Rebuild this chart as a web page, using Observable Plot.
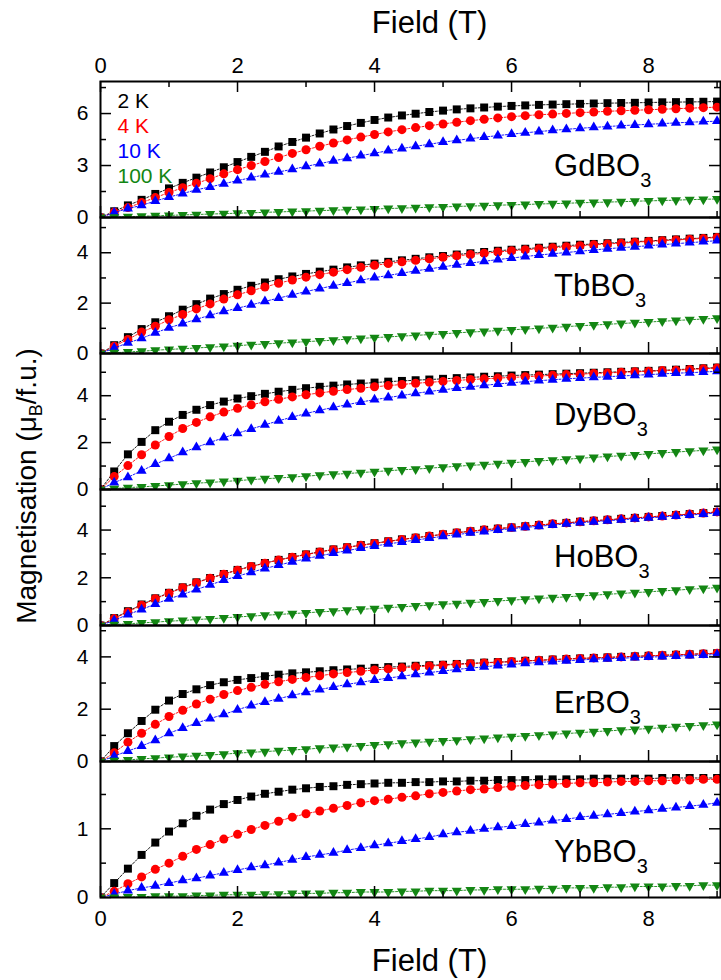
<!DOCTYPE html>
<html><head><meta charset="utf-8">
<script src="https://cdn.jsdelivr.net/npm/d3@7"></script>
<script src="https://cdn.jsdelivr.net/npm/@observablehq/plot@0.6"></script>
<style>
body{margin:0;background:#fff;}
#wrap{position:relative;width:721px;height:980px;overflow:hidden;font-family:"Liberation Sans",Arial,sans-serif;}
#panels svg{overflow:visible;}
#ytitle{position:absolute;left:27px;top:486px;transform:translate(-50%,-50%) rotate(-90deg);white-space:nowrap;font-size:28px;line-height:34px;color:#000;}
#ytitle sub{font-size:18px;vertical-align:-6px;line-height:0;}
</style></head><body>
<div id="wrap"><div id="panels"></div><div id="ytitle">Magnetisation (μ<sub>B</sub>/f.u.)</div></div>
<script>
// ---------------- data ----------------
const field = [0,0.2,0.4,0.6,0.8,1.0,1.2,1.4,1.6,1.8,2.0,2.2,2.4,2.6,2.8,3.0,3.2,3.4,3.6,3.8,4.0,4.2,4.4,4.6,4.8,5.0,5.2,5.4,5.6,5.8,6.0,6.2,6.4,6.6,6.8,7.0,7.2,7.4,7.6,7.8,8.0,8.2,8.4,8.6,8.8,9.0];
const compounds = ["GdBO3","TbBO3","DyBO3","HoBO3","ErBO3","YbBO3"];
const temperatures = ["2 K","4 K","10 K","100 K"];

const Gd_2K = [0,0.36,0.7,1.02,1.36,1.68,2.0,2.3,2.6,2.9,3.2,3.5,3.79,4.1,4.36,4.61,4.85,5.08,5.28,5.46,5.63,5.77,5.89,5.99,6.09,6.17,6.24,6.3,6.35,6.4,6.44,6.47,6.5,6.52,6.54,6.56,6.58,6.6,6.61,6.62,6.64,6.65,6.66,6.67,6.68,6.69];
const Gd_4K = [0,0.3,0.57,0.86,1.15,1.44,1.72,1.97,2.24,2.52,2.76,3.0,3.23,3.46,3.7,3.91,4.11,4.3,4.48,4.64,4.79,4.94,5.07,5.19,5.3,5.4,5.5,5.59,5.67,5.75,5.82,5.88,5.93,5.97,6.01,6.05,6.09,6.13,6.16,6.19,6.22,6.25,6.28,6.31,6.34,6.37];
const Gd_10K = [0,0.28,0.52,0.7,0.95,1.18,1.38,1.6,1.76,1.95,2.13,2.3,2.47,2.63,2.78,2.95,3.11,3.27,3.42,3.57,3.71,3.86,3.98,4.11,4.23,4.35,4.45,4.55,4.64,4.73,4.81,4.89,4.96,5.03,5.09,5.15,5.2,5.25,5.3,5.34,5.38,5.42,5.46,5.5,5.53,5.56];
const Gd_100K = [0,0.02,0.05,0.07,0.1,0.12,0.15,0.17,0.2,0.22,0.25,0.27,0.3,0.32,0.35,0.37,0.4,0.42,0.45,0.47,0.49,0.52,0.54,0.57,0.59,0.61,0.64,0.66,0.68,0.71,0.73,0.75,0.78,0.8,0.82,0.85,0.87,0.89,0.91,0.94,0.96,0.98,1.0,1.03,1.05,1.07];

const Tb_2K = [0,0.33,0.65,0.97,1.24,1.48,1.74,1.96,2.18,2.36,2.53,2.69,2.82,2.95,3.06,3.16,3.25,3.33,3.42,3.5,3.57,3.64,3.7,3.76,3.82,3.87,3.93,3.98,4.03,4.08,4.12,4.16,4.2,4.24,4.28,4.32,4.35,4.38,4.41,4.44,4.47,4.5,4.53,4.56,4.59,4.63];
const Tb_4K = [0,0.29,0.56,0.85,1.08,1.34,1.55,1.77,1.97,2.16,2.33,2.49,2.64,2.79,2.92,3.03,3.13,3.23,3.33,3.42,3.5,3.57,3.64,3.7,3.76,3.82,3.88,3.93,3.98,4.03,4.08,4.12,4.16,4.2,4.24,4.28,4.32,4.35,4.38,4.42,4.45,4.48,4.51,4.54,4.57,4.61];
const Tb_10K = [0,0.22,0.42,0.6,0.82,1.02,1.19,1.36,1.52,1.67,1.8,1.93,2.07,2.2,2.33,2.46,2.58,2.69,2.8,2.91,3.01,3.1,3.19,3.28,3.36,3.44,3.52,3.59,3.66,3.73,3.79,3.85,3.91,3.96,4.01,4.06,4.11,4.16,4.2,4.24,4.28,4.32,4.36,4.4,4.44,4.48];
const Tb_100K = [0,0.03,0.06,0.09,0.13,0.16,0.19,0.22,0.25,0.28,0.31,0.35,0.38,0.41,0.44,0.47,0.5,0.53,0.57,0.6,0.63,0.66,0.69,0.72,0.75,0.78,0.82,0.85,0.88,0.91,0.94,0.97,1.0,1.03,1.07,1.1,1.13,1.16,1.19,1.22,1.25,1.28,1.31,1.34,1.37,1.4];

const Dy_2K = [0,0.77,1.5,2.03,2.53,2.89,3.18,3.4,3.6,3.75,3.88,3.98,4.08,4.17,4.25,4.32,4.38,4.43,4.48,4.52,4.56,4.6,4.63,4.66,4.69,4.72,4.75,4.78,4.81,4.83,4.86,4.88,4.9,4.92,4.94,4.96,4.98,5.0,5.02,5.04,5.06,5.08,5.11,5.14,5.17,5.2];
const Dy_4K = [0,0.55,1.02,1.48,1.9,2.26,2.6,2.86,3.1,3.3,3.46,3.61,3.74,3.85,3.95,4.04,4.12,4.19,4.26,4.32,4.38,4.43,4.48,4.53,4.57,4.61,4.65,4.69,4.72,4.75,4.78,4.81,4.84,4.87,4.9,4.92,4.95,4.97,5.0,5.02,5.04,5.07,5.09,5.12,5.15,5.18];
const Dy_10K = [0,0.3,0.52,0.8,1.08,1.33,1.58,1.8,2.01,2.21,2.4,2.58,2.76,2.93,3.09,3.24,3.38,3.5,3.62,3.73,3.83,3.92,4.01,4.1,4.18,4.25,4.32,4.38,4.44,4.5,4.55,4.6,4.64,4.68,4.72,4.75,4.78,4.81,4.84,4.87,4.9,4.93,4.96,4.98,5.01,5.04];
const Dy_100K = [0,0.04,0.08,0.11,0.15,0.19,0.23,0.27,0.3,0.34,0.38,0.42,0.46,0.49,0.53,0.57,0.61,0.65,0.68,0.72,0.76,0.8,0.84,0.87,0.91,0.95,0.99,1.03,1.06,1.1,1.14,1.18,1.22,1.25,1.29,1.33,1.37,1.41,1.44,1.48,1.52,1.56,1.6,1.63,1.67,1.71];

const Ho_2K = [0,0.31,0.6,0.88,1.14,1.37,1.6,1.81,1.99,2.16,2.33,2.48,2.62,2.75,2.87,2.98,3.09,3.19,3.28,3.37,3.45,3.53,3.61,3.68,3.75,3.82,3.89,3.95,4.01,4.06,4.11,4.16,4.21,4.26,4.3,4.35,4.39,4.43,4.47,4.51,4.55,4.59,4.63,4.67,4.71,4.76];
const Ho_4K = [0,0.29,0.57,0.85,1.12,1.35,1.58,1.79,1.98,2.15,2.32,2.47,2.61,2.74,2.86,2.97,3.08,3.18,3.27,3.36,3.44,3.52,3.6,3.68,3.75,3.82,3.89,3.95,4.01,4.06,4.11,4.16,4.21,4.26,4.3,4.35,4.39,4.43,4.47,4.51,4.55,4.59,4.63,4.67,4.71,4.76];
const Ho_10K = [0,0.22,0.46,0.67,0.9,1.12,1.3,1.51,1.7,1.9,2.07,2.23,2.39,2.53,2.67,2.8,2.92,3.03,3.14,3.24,3.33,3.42,3.5,3.58,3.66,3.74,3.81,3.88,3.94,4.0,4.06,4.11,4.16,4.21,4.26,4.31,4.35,4.39,4.43,4.47,4.51,4.55,4.59,4.63,4.67,4.72];
const Ho_100K = [0,0.04,0.07,0.11,0.14,0.18,0.21,0.25,0.28,0.32,0.36,0.39,0.43,0.46,0.5,0.53,0.57,0.6,0.64,0.68,0.71,0.75,0.78,0.82,0.85,0.89,0.92,0.96,0.99,1.03,1.06,1.1,1.13,1.17,1.2,1.24,1.27,1.31,1.34,1.38,1.41,1.45,1.48,1.52,1.55,1.59];

const Er_2K = [0,0.59,1.08,1.55,1.98,2.33,2.58,2.76,2.92,3.03,3.12,3.19,3.26,3.32,3.37,3.41,3.45,3.49,3.52,3.55,3.58,3.61,3.63,3.66,3.68,3.7,3.73,3.75,3.78,3.8,3.82,3.85,3.87,3.9,3.92,3.94,3.96,3.98,4.0,4.02,4.04,4.06,4.08,4.1,4.12,4.14];
const Er_4K = [0,0.33,0.74,1.08,1.42,1.72,1.96,2.2,2.38,2.56,2.71,2.84,2.95,3.05,3.14,3.21,3.28,3.35,3.4,3.45,3.5,3.54,3.58,3.62,3.65,3.68,3.71,3.74,3.77,3.79,3.82,3.84,3.87,3.89,3.92,3.94,3.96,3.98,4.0,4.02,4.04,4.06,4.08,4.1,4.12,4.14];
const Er_10K = [0,0.21,0.4,0.59,0.81,1.08,1.28,1.47,1.64,1.8,1.98,2.14,2.27,2.4,2.53,2.64,2.75,2.85,2.95,3.03,3.11,3.19,3.26,3.33,3.4,3.46,3.52,3.57,3.62,3.67,3.71,3.75,3.79,3.82,3.85,3.88,3.91,3.93,3.95,3.97,3.99,4.01,4.03,4.05,4.07,4.09];
const Er_100K = [0,0.03,0.06,0.1,0.13,0.16,0.19,0.22,0.25,0.28,0.32,0.35,0.38,0.41,0.44,0.47,0.51,0.54,0.57,0.6,0.63,0.66,0.7,0.73,0.76,0.79,0.82,0.85,0.88,0.92,0.95,0.98,1.01,1.04,1.07,1.1,1.14,1.17,1.2,1.23,1.26,1.29,1.33,1.36,1.39,1.42];

const Yb_2K = [0,0.21,0.42,0.62,0.8,0.96,1.08,1.19,1.28,1.36,1.42,1.47,1.51,1.54,1.57,1.59,1.61,1.62,1.64,1.65,1.66,1.67,1.67,1.68,1.68,1.69,1.69,1.7,1.7,1.71,1.71,1.71,1.72,1.72,1.72,1.72,1.73,1.73,1.73,1.73,1.73,1.74,1.74,1.74,1.74,1.74];
const Yb_4K = [0,0.09,0.2,0.3,0.41,0.5,0.6,0.7,0.77,0.85,0.92,0.99,1.05,1.11,1.17,1.22,1.26,1.3,1.34,1.38,1.41,1.43,1.46,1.48,1.51,1.53,1.55,1.57,1.58,1.6,1.62,1.63,1.64,1.65,1.66,1.67,1.67,1.68,1.69,1.69,1.7,1.7,1.71,1.71,1.72,1.72];
const Yb_10K = [0,0.05,0.1,0.14,0.17,0.21,0.25,0.28,0.32,0.36,0.4,0.44,0.47,0.51,0.55,0.59,0.62,0.65,0.69,0.72,0.76,0.79,0.82,0.85,0.88,0.92,0.95,0.97,1.0,1.02,1.04,1.07,1.09,1.12,1.14,1.17,1.19,1.21,1.23,1.25,1.27,1.29,1.31,1.33,1.35,1.38];
const Yb_100K = [0,0,0.01,0.01,0.02,0.02,0.02,0.03,0.03,0.04,0.04,0.04,0.05,0.05,0.06,0.06,0.06,0.07,0.07,0.08,0.08,0.08,0.09,0.09,0.1,0.1,0.1,0.11,0.11,0.12,0.12,0.12,0.13,0.13,0.14,0.14,0.14,0.15,0.15,0.16,0.16,0.16,0.17,0.17,0.18,0.18];

// axis tick values
const xMajorTicks = [0,2,4,6,8];
const xMinorTicks = [1,3,5,7,9];
const yMajorTicks = [[0,3,6],[0,2,4],[0,2,4],[0,2,4],[0,2,4],[0,1]];
const yMinorTicks = [[1.5,4.5,7.5],[1,3,5],[1,3,5],[1,3,5],[1,3,5],[0.5,1.5]];

// ---------------- layout / style ----------------
const series = {
  GdBO3: [Gd_2K, Gd_4K, Gd_10K, Gd_100K],
  TbBO3: [Tb_2K, Tb_4K, Tb_10K, Tb_100K],
  DyBO3: [Dy_2K, Dy_4K, Dy_10K, Dy_100K],
  HoBO3: [Ho_2K, Ho_4K, Ho_10K, Ho_100K],
  ErBO3: [Er_2K, Er_4K, Er_10K, Er_100K],
  YbBO3: [Yb_2K, Yb_4K, Yb_10K, Yb_100K]
};
const yTop = [7.85, 5.4, 5.8, 5.7, 5.2, 1.98];
const nameY = [2.4, 2.3, 2.75, 2.44, 1.85, 0.52];
const xTop = 9.05;
const colors = ["#000000", "#ff0000", "#0000ff", "#138613"];
const triangleDown = {
  draw(context, size) {
    const y = Math.sqrt(size / (Math.sqrt(3) * 3));
    const x = Math.sqrt(3) * y;
    context.moveTo(0, 2 * y);
    context.lineTo(-x, -y);
    context.lineTo(x, -y);
    context.closePath();
  }
};
const symbols = ["square", "circle", "triangle", triangleDown];
const radii = [4.5, 4.5, 3.75, 3.75];

const W = 721, ML = 100, MR = 1, PH = 136;
const innerW = W - ML - MR;
const FONT = '"Liberation Sans", Arial, sans-serif';
const container = document.getElementById("panels");

compounds.forEach((name, p) => {
  const first = p === 0, last = p === compounds.length - 1;
  const mt = first ? 81 : 0, mb = last ? 83 : 0;
  const marks = [];
  series[name].forEach((vals, s) => {
    const rows = field.map((x, i) => ({x, y: vals[i]}));
    marks.push(Plot.line(rows, {x: "x", y: "y", stroke: colors[s], strokeWidth: 0.9, strokeDasharray: "2,1.6", clip: true}));
    marks.push(Plot.dot(rows, {x: "x", y: "y", fill: colors[s], symbol: symbols[s], r: radii[s], clip: true}));
  });
  // ticks (inward)
  marks.push(Plot.ruleX(xMajorTicks, {x: d => d, insetTop: PH - 11, strokeWidth: 1.5}));
  marks.push(Plot.ruleX(xMinorTicks, {x: d => d, insetTop: PH - 6, strokeWidth: 1.5}));
  if (first) {
    marks.push(Plot.ruleX(xMajorTicks, {x: d => d, insetBottom: PH - 11, strokeWidth: 1.5}));
    marks.push(Plot.ruleX(xMinorTicks, {x: d => d, insetBottom: PH - 6, strokeWidth: 1.5}));
  }
  marks.push(Plot.ruleY(yMajorTicks[p], {y: d => d, insetRight: innerW - 11, strokeWidth: 1.5}));
  marks.push(Plot.ruleY(yMinorTicks[p], {y: d => d, insetRight: innerW - 6, strokeWidth: 1.5}));
  marks.push(Plot.ruleY(yMajorTicks[p], {y: d => d, insetLeft: innerW - 11, strokeWidth: 1.5}));
  marks.push(Plot.ruleY(yMinorTicks[p], {y: d => d, insetLeft: innerW - 6, strokeWidth: 1.5}));
  marks.push(Plot.frame({stroke: "black", strokeWidth: 2}));
  // y tick labels
  marks.push(Plot.text(yMajorTicks[p], {y: d => d, text: d => String(d), frameAnchor: "left", textAnchor: "end", dx: -12, fontSize: 21, fill: "black"}));
  // compound label
  marks.push(Plot.text([name], {x: () => 6.62, y: () => nameY[p], text: d => d, textAnchor: "start", lineAnchor: "bottom", fontSize: 31, fill: "black"}));
  if (first) {
    marks.push(Plot.text(xMajorTicks, {x: d => d, text: d => String(d), frameAnchor: "top", lineAnchor: "bottom", dy: -9, fontSize: 22, fill: "black"}));
    marks.push(Plot.text(["Field (T)"], {frameAnchor: "top", lineAnchor: "bottom", dx: 19, dy: -49, fontSize: 31, fill: "black"}));
    temperatures.forEach((t, s) => {
      marks.push(Plot.text([t], {frameAnchor: "top-left", textAnchor: "start", lineAnchor: "bottom", dx: 17, dy: 26 + 25 * s, fontSize: 21, fill: colors[s]}));
    });
  }
  if (last) {
    marks.push(Plot.text(xMajorTicks, {x: d => d, text: d => String(d), frameAnchor: "bottom", lineAnchor: "top", dy: 13, fontSize: 22, fill: "black"}));
    marks.push(Plot.text(["Field (T)"], {frameAnchor: "bottom", lineAnchor: "bottom", dx: 19, dy: 73, fontSize: 31, fill: "black"}));
  }
  const svg = Plot.plot({
    width: W,
    height: PH + mt + mb,
    marginLeft: ML, marginRight: MR, marginTop: mt, marginBottom: mb,
    x: {domain: [0, xTop], axis: null},
    y: {domain: [0, yTop[p]], axis: null},
    style: {fontFamily: FONT, background: "transparent", overflow: "visible"},
    marks
  });
  // subscript the "3" in the compound name
  svg.querySelectorAll("text").forEach(t => {
    const txt = t.textContent;
    if (/BO3$/.test(txt)) {
      t.textContent = txt.slice(0, -1);
      const ts = document.createElementNS("http://www.w3.org/2000/svg", "tspan");
      ts.setAttribute("dy", "11");
      ts.setAttribute("font-size", "20");
      ts.textContent = "3";
      t.appendChild(ts);
    }
  });
  container.appendChild(svg);
});
</script>
</body></html>
